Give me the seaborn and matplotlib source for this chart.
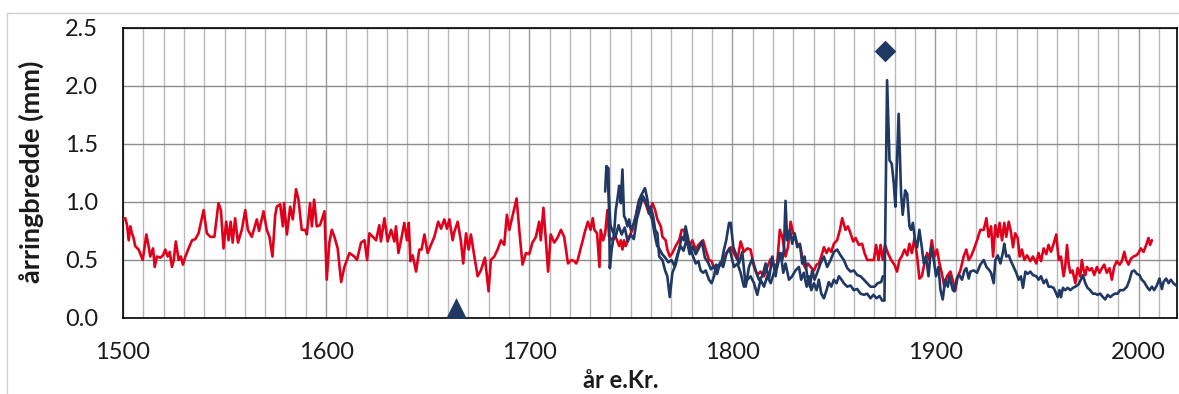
import matplotlib
matplotlib.use("Agg")
import matplotlib.pyplot as plt
import seaborn as sns
import pandas as pd
from matplotlib.ticker import MultipleLocator, FormatStrFormatter
from matplotlib.lines import Line2D

# ---------------- data ----------------
red_year = [1500, 1501.1, 1502, 1502.8, 1503.6, 1504.4, 1505.2, 1506, 1507.7, 1509.7, 1510.2, 1511.5, 1512.6,
            1513.4, 1514.8, 1515.6, 1516.7, 1518.4, 1519.7, 1520.8, 1522, 1523, 1524.1, 1525, 1526, 1527.4,
            1528.5, 1529.5, 1530.7, 1532.3, 1534, 1535.6, 1537.2, 1539.7, 1541.3, 1543, 1545, 1547, 1548.2,
            1549.5, 1550.8, 1552, 1553, 1554, 1555.2, 1556.6, 1558.5, 1560.2, 1561.5, 1563.4, 1565.9, 1567,
            1569.2, 1570.8, 1572.1, 1573.6, 1574.9, 1575.7, 1577.4, 1578.7, 1579.3, 1580.7, 1582.3, 1583.6,
            1585.2, 1586.4, 1588, 1589.7, 1590.5, 1592.1, 1593, 1594.1, 1595.4, 1597, 1599.2, 1600.3, 1601.6,
            1602.8, 1604.1, 1605.7, 1607.4, 1609, 1611.5, 1613.9, 1615.2, 1617.2, 1618.9, 1620.2, 1621.3,
            1623, 1624.6, 1626.2, 1627, 1628.7, 1630.3, 1632, 1633.6, 1634.4, 1635.6, 1636.9, 1638.5, 1639.8,
            1640.7, 1641.5, 1642.6, 1644.3, 1645.9, 1647, 1648.4, 1650, 1651.6, 1653.3, 1655.2, 1656.6,
            1658.2, 1659.5, 1660.7, 1662.3, 1663.1, 1664.8, 1666.4, 1667.5, 1668.9, 1670.2, 1671.3, 1673,
            1674.6, 1676.2, 1678.2, 1680, 1681.1, 1682.8, 1684.4, 1686.1, 1687.7, 1689, 1690.2, 1691.8,
            1693.8, 1695.1, 1696.7, 1698.4, 1700, 1701.6, 1703.3, 1704.9, 1705.7, 1707, 1708.2, 1709.3,
            1710.6, 1712.3, 1713.9, 1715.6, 1717.2, 1719.1, 1720.7, 1722.3, 1723.1, 1723.9, 1725.6, 1726.4,
            1727.2, 1728.9, 1730.2, 1731.3, 1732.1, 1733.4, 1734.6, 1735.2, 1736.4, 1737.4, 1738.5, 1739.3,
            1741, 1742.6, 1744.3, 1745.1, 1745.9, 1746.7, 1747.5, 1749.2, 1750.8, 1752.5, 1754.1, 1755.7,
            1757.4, 1759, 1760.7, 1762, 1763.1, 1764.8, 1765.6, 1767.2, 1768, 1769.2, 1770.5, 1772.1,
            1773.8, 1775.1, 1776.2, 1777.4, 1779, 1780.3, 1782, 1783.3, 1784.4, 1785.6, 1786.9, 1788.5,
            1789.8, 1791, 1792.6, 1794.3, 1795.9, 1797, 1798.4, 1799.2, 1800.8, 1802.5, 1804.1, 1805.7,
            1807.4, 1809, 1810.7, 1812.3, 1813.9, 1815.6, 1817.2, 1818.9, 1820.5, 1822.1, 1823.4, 1824.6,
            1826.2, 1827.4, 1828.7, 1830, 1831.1, 1832, 1833.6, 1834.9, 1836, 1837.2, 1838.5, 1840.2,
            1841.5, 1842.6, 1843.8, 1845.1, 1846.4, 1847.5, 1848.7, 1850, 1851.6, 1853, 1854.1, 1855.7,
            1856.9, 1858.2, 1859.5, 1860.7, 1862.3, 1863.9, 1865.1, 1866.4, 1868, 1869.7, 1870.8, 1872,
            1873, 1874.1, 1875.2, 1876.6, 1878.2, 1879.8, 1881.1, 1882.3, 1883.4, 1884.8, 1886.1, 1887.2,
            1888.4, 1889.7, 1891, 1892.1, 1893.3, 1894.6, 1895.9, 1897, 1898.2, 1899.5, 1900.8, 1902,
            1903.1, 1904.4, 1905.7, 1906.9, 1907.4, 1909.8, 1911, 1912.3, 1913.9, 1915.2, 1916.4, 1917.5,
            1918.9, 1920.5, 1922.1, 1923.8, 1925.1, 1926.2, 1927.4, 1928.4, 1929.5, 1930.7, 1931.6, 1932.8,
            1933.9, 1934.9, 1936.1, 1937.2, 1938.2, 1939.3, 1940.5, 1941.5, 1942.6, 1943.8, 1945.1, 1946.7,
            1948, 1949.7, 1950.8, 1952, 1953.3, 1954.6, 1955.7, 1956.9, 1958.2, 1959.5, 1960.7, 1961.8,
            1963.1, 1963.9, 1964.8, 1965.6, 1966.4, 1967.5, 1968.9, 1970, 1971.3, 1972.1, 1973, 1973.8,
            1974.6, 1975.9, 1977, 1978.2, 1979.5, 1980.8, 1982, 1983.1, 1984.4, 1985.7, 1986.9, 1988,
            1989.3, 1990.7, 1991.8, 1993, 1993.9, 1995.1, 1996.2, 1997.5, 1998.9, 2000, 2001.1, 2002.5,
            2003.8, 2004.9, 2005.7, 2006.6]
red_val = [0.85, 0.86, 0.80, 0.67, 0.79, 0.73, 0.69, 0.62, 0.59, 0.50, 0.56, 0.72, 0.62,
           0.53, 0.60, 0.44, 0.53, 0.52, 0.54, 0.59, 0.53, 0.57, 0.44, 0.50, 0.66, 0.50,
           0.53, 0.46, 0.53, 0.60, 0.67, 0.68, 0.73, 0.93, 0.73, 0.70, 0.70, 0.99, 0.93,
           0.60, 0.83, 0.67, 0.83, 0.65, 0.86, 0.65, 0.76, 0.93, 0.76, 0.70, 0.85, 0.75,
           0.92, 0.76, 0.70, 0.53, 0.88, 0.96, 0.98, 0.79, 0.99, 0.72, 0.96, 0.85,
           1.11, 1.02, 0.76, 0.76, 0.72, 0.99, 0.79, 1.02, 0.79, 0.80, 0.92, 0.33, 0.65,
           0.76, 0.70, 0.60, 0.31, 0.44, 0.56, 0.53, 0.50, 0.65, 0.67, 0.50, 0.73,
           0.70, 0.67, 0.80, 0.66, 0.86, 0.66, 0.76, 0.66, 0.79, 0.56, 0.67, 0.82, 0.67,
           0.82, 0.49, 0.54, 0.40, 0.59, 0.59, 0.72, 0.56, 0.63, 0.70, 0.83, 0.77,
           0.85, 0.77, 0.85, 0.67, 0.74, 0.83, 0.66, 0.47, 0.73, 0.59, 0.72, 0.53,
           0.36, 0.41, 0.52, 0.23, 0.50, 0.53, 0.59, 0.67, 0.63, 0.89, 0.76, 0.88,
           1.03, 0.76, 0.46, 0.56, 0.55, 0.65, 0.70, 0.83, 0.67, 0.95, 0.67, 0.40,
           0.72, 0.65, 0.69, 0.76, 0.70, 0.47, 0.50, 0.49, 0.47, 0.50, 0.62, 0.67,
           0.73, 0.83, 0.76, 0.86, 0.76, 0.73, 0.44, 0.76, 0.67, 0.73, 0.93, 0.70,
           0.67, 0.70, 0.62, 0.67, 0.59, 0.67, 0.62, 0.70, 0.76, 0.88, 1.02, 1.05,
           0.98, 0.90, 0.99, 0.93, 0.85, 0.79, 0.70, 0.67, 0.59, 0.53, 0.56, 0.62,
           0.67, 0.76, 0.76, 0.69, 0.62, 0.67, 0.59, 0.63, 0.65, 0.67, 0.59, 0.50,
           0.49, 0.43, 0.44, 0.47, 0.50, 0.56, 0.59, 0.61, 0.56, 0.50, 0.66, 0.57,
           0.60, 0.59, 0.44, 0.37, 0.40, 0.36, 0.44, 0.51, 0.44, 0.47, 0.76, 0.70,
           0.53, 0.61, 0.83, 0.73, 0.69, 0.64, 0.61, 0.47, 0.43, 0.47, 0.44, 0.41,
           0.46, 0.47, 0.53, 0.61, 0.56, 0.60, 0.57, 0.64, 0.67, 0.76, 0.86, 0.76,
           0.79, 0.73, 0.66, 0.69, 0.63, 0.64, 0.56, 0.50, 0.50, 0.50, 0.63, 0.50,
           0.63, 0.50, 0.63, 0.56, 0.50, 0.46, 0.40, 0.50, 0.53, 0.59, 0.54, 0.64,
           0.56, 0.69, 0.53, 0.34, 0.36, 0.47, 0.56, 0.50, 0.67, 0.53, 0.59, 0.47,
           0.39, 0.27, 0.36, 0.39, 0.40, 0.24, 0.36, 0.41, 0.53, 0.59, 0.50, 0.53,
           0.59, 0.67, 0.76, 0.76, 0.86, 0.70, 0.79, 0.53, 0.80, 0.70, 0.82, 0.67,
           0.82, 0.70, 0.83, 0.74, 0.61, 0.73, 0.69, 0.53, 0.59, 0.50, 0.54, 0.49,
           0.53, 0.47, 0.56, 0.49, 0.60, 0.55, 0.63, 0.57, 0.64, 0.72, 0.50, 0.53,
           0.36, 0.44, 0.63, 0.47, 0.39, 0.41, 0.30, 0.43, 0.36, 0.50, 0.41, 0.37,
           0.44, 0.41, 0.43, 0.37, 0.44, 0.39, 0.43, 0.46, 0.39, 0.43, 0.33, 0.44,
           0.49, 0.46, 0.49, 0.57, 0.50, 0.46, 0.51, 0.53, 0.54, 0.56, 0.60, 0.57,
           0.63, 0.69, 0.63, 0.67]

# dark blue tree 1 (ends 1874)
blue1_year = [1737.4, 1738.0, 1739.0, 1739.7, 1740.6, 1741.8, 1742.6, 1743.4, 1744.3, 1745.1, 1745.9,
              1746.7, 1747.5, 1748.4, 1749.2, 1750.0, 1751.2, 1752.5, 1753.8, 1754.9, 1756.1, 1757.0,
              1758.2, 1759.0, 1759.8, 1761.0, 1762.0, 1763.1, 1764.0, 1765.6, 1766.9, 1768.0, 1769.2,
              1770.5, 1772.1, 1773.8, 1775.1, 1776.2, 1777.0, 1778.4, 1779.5, 1780.7, 1782.0, 1783.3,
              1784.4, 1785.6, 1786.9, 1788.5, 1789.8, 1791.0, 1792.1, 1793.4, 1794.8, 1795.9, 1797.0,
              1798.4, 1799.2, 1800.5, 1801.6, 1803.3, 1804.9, 1806.6, 1808.2, 1809.8, 1811.5, 1813.1,
              1814.8, 1816.4, 1818.0, 1819.7, 1821.3, 1823.0, 1824.6, 1825.4, 1826.2, 1827.0, 1828.4,
              1829.5, 1830.7, 1832.0, 1833.3, 1834.4, 1835.6, 1836.9, 1838.2, 1839.3, 1840.5, 1841.8,
              1843.4, 1845.1, 1846.7, 1848.4, 1850.0, 1851.6, 1853.3, 1854.9, 1856.6, 1858.2, 1859.8,
              1861.5, 1863.1, 1864.8, 1866.4, 1868.0, 1870.0, 1871.6, 1873.3, 1874.1]
blue1_val = [1.09, 1.31, 1.29, 0.43, 0.59, 0.73, 0.93, 1.02, 1.14, 0.99, 1.28,
             0.88, 0.85, 0.79, 0.85, 0.76, 0.80, 0.88, 0.99, 1.05, 1.09, 1.12,
             1.02, 0.90, 0.96, 0.88, 0.76, 0.73, 0.53, 0.50, 0.41, 0.36, 0.18,
             0.39, 0.46, 0.59, 0.70, 0.67, 0.79, 0.67, 0.59, 0.53, 0.47, 0.49,
             0.41, 0.39, 0.41, 0.33, 0.30, 0.36, 0.46, 0.44, 0.49, 0.59, 0.67,
             0.82, 0.82, 0.61, 0.56, 0.47, 0.57, 0.27, 0.44, 0.51, 0.41, 0.33,
             0.36, 0.47, 0.33, 0.53, 0.36, 0.56, 0.50, 0.59, 1.01, 0.67, 0.76,
             0.64, 0.73, 0.61, 0.64, 0.47, 0.53, 0.36, 0.27, 0.41, 0.33, 0.39,
             0.47, 0.53, 0.44, 0.50, 0.57, 0.59, 0.54, 0.50, 0.43, 0.40, 0.41,
             0.37, 0.36, 0.33, 0.30, 0.27, 0.27, 0.30, 0.31, 0.36]

# dark blue tree 2 (release after 1875, runs to the present)
blue2_year = [1738.0, 1739.0, 1740.0, 1741.0, 1742.5, 1744.0, 1745.5, 1747.0, 1748.5, 1750.0, 1751.5,
              1753.0, 1754.5, 1756.0, 1757.5, 1759.0, 1760.5, 1762.0, 1763.0, 1764.0, 1765.5, 1767.0,
              1768.5, 1770.0, 1771.5, 1773.0, 1774.5, 1776.0, 1777.5, 1779.0, 1780.5, 1782.0, 1783.5,
              1785.0, 1786.5, 1788.0, 1789.5, 1791.0, 1792.5, 1794.0, 1795.5, 1797.0, 1798.5, 1799.2,
              1800.8, 1802.5, 1804.1, 1805.7, 1807.4, 1809.0, 1810.7, 1812.3, 1813.9, 1815.6, 1817.2,
              1818.9, 1820.5, 1822.1, 1823.8, 1825.1, 1826.2, 1827.9, 1829.5, 1831.1, 1832.8, 1833.9,
              1835.2, 1836.6, 1837.7, 1838.9, 1840.2, 1841.5, 1842.6, 1843.8, 1845.1, 1846.4, 1847.5,
              1848.7, 1850.0, 1851.3, 1852.5, 1853.8, 1854.9, 1856.6, 1858.2, 1859.8, 1861.5, 1863.1,
              1864.8, 1866.4, 1868.0, 1869.5, 1871.0, 1872.5, 1873.8, 1874.9, 1876.2, 1877.4, 1878.5,
              1879.5, 1880.3, 1881.9, 1883.1, 1883.9, 1885.1, 1886.1, 1887.2, 1888.0, 1888.9, 1890.0,
              1891.0, 1892.1, 1893.3, 1894.3, 1895.4, 1896.6, 1897.9, 1899.2, 1900.3, 1901.5, 1902.5,
              1903.6, 1904.8, 1906.1, 1906.9, 1908.6, 1909.4, 1910.5, 1911.8, 1913.1, 1914.3, 1915.2,
              1916.4, 1917.2, 1918.9, 1920.5, 1922.1, 1923.8, 1925.1, 1926.2, 1927.4, 1928.7, 1929.5,
              1930.7, 1932.0, 1933.3, 1933.9, 1934.9, 1936.1, 1937.2, 1938.5, 1939.8, 1941.0, 1942.1,
              1943.1, 1944.3, 1945.4, 1946.7, 1948.0, 1949.7, 1950.8, 1952.0, 1953.3, 1954.6, 1955.7,
              1956.9, 1958.2, 1959.5, 1960.2, 1961.1, 1961.8, 1962.8, 1963.9, 1965.1, 1966.4, 1967.7,
              1968.9, 1970.5, 1971.6, 1972.6, 1973.8, 1974.9, 1976.2, 1977.5, 1978.7, 1979.8, 1981.1,
              1982.5, 1983.6, 1984.8, 1986.1, 1987.4, 1988.5, 1989.7, 1990.9, 1992.6, 1994.3, 1995.6,
              1996.7, 1997.9, 1999.2, 2000.5, 2001.6, 2002.8, 2004.1, 2005.4, 2006.6, 2007.7, 2009.0,
              2010.3, 2011.5, 2012.3, 2013.6, 2014.8, 2015.9, 2017.2, 2018.5, 2019.8]
blue2_val = [1.28, 1.10, 0.80, 0.75, 0.70, 0.80, 0.72, 0.78, 0.66, 0.72, 0.68,
             0.85, 0.95, 1.05, 1.00, 0.92, 0.85, 0.70, 0.62, 0.60, 0.55, 0.52,
             0.48, 0.50, 0.45, 0.55, 0.62, 0.58, 0.68, 0.55, 0.62, 0.55, 0.60,
             0.66, 0.52, 0.48, 0.42, 0.45, 0.38, 0.48, 0.44, 0.55, 0.60, 0.56,
             0.44, 0.47, 0.39, 0.27, 0.33, 0.36, 0.30, 0.20, 0.33, 0.27, 0.36,
             0.30, 0.39, 0.44, 0.56, 0.39, 0.47, 0.33, 0.36, 0.41, 0.44, 0.33,
             0.39, 0.27, 0.36, 0.24, 0.30, 0.24, 0.33, 0.21, 0.17, 0.24, 0.31,
             0.27, 0.33, 0.30, 0.36, 0.33, 0.30, 0.27, 0.28, 0.24, 0.25, 0.21,
             0.20, 0.21, 0.17, 0.20, 0.17, 0.19, 0.15, 0.15, 2.05, 1.36, 1.33,
             1.16, 0.96, 1.76, 1.07, 0.89, 1.10, 1.07, 0.79, 0.76, 0.82, 0.67,
             0.61, 0.76, 0.61, 0.47, 0.53, 0.36, 0.61, 0.50, 0.36, 0.44, 0.24,
             0.16, 0.33, 0.27, 0.36, 0.24, 0.23, 0.34, 0.37, 0.33, 0.41, 0.43,
             0.34, 0.40, 0.41, 0.39, 0.46, 0.50, 0.44, 0.42, 0.39, 0.30, 0.50,
             0.54, 0.47, 0.57, 0.64, 0.53, 0.54, 0.49, 0.44, 0.39, 0.33, 0.36,
             0.26, 0.40, 0.38, 0.40, 0.37, 0.36, 0.33, 0.36, 0.30, 0.33, 0.27,
             0.27, 0.26, 0.21, 0.18, 0.24, 0.18, 0.26, 0.24, 0.26, 0.24, 0.26,
             0.27, 0.29, 0.33, 0.37, 0.30, 0.26, 0.24, 0.21, 0.21, 0.20, 0.21,
             0.18, 0.16, 0.20, 0.18, 0.20, 0.21, 0.21, 0.24, 0.24, 0.27, 0.33,
             0.40, 0.41, 0.38, 0.37, 0.33, 0.31, 0.27, 0.24, 0.27, 0.24, 0.28,
             0.34, 0.25, 0.31, 0.34, 0.30, 0.33, 0.30, 0.28, 0.27]

event_year = [1664.0, 1875.3]
event_val = [0.09, 2.30]
event_marker = ["^", "D"]

x_ticks = [1500, 1600, 1700, 1800, 1900, 2000]
y_ticks = [0.0, 0.5, 1.0, 1.5, 2.0, 2.5]
x_label = "år e.Kr."
y_label = "årringbredde (mm)"

# ---------------- style ----------------
sns.set_theme(style="white")
plt.rcParams["font.family"] = ["Lato", "DejaVu Sans"]

RED = "#E0001B"
NAVY = "#1F3864"
TXT = "#1A1A1A"

W, H = 1179, 394
fig = plt.figure(figsize=(W / 100, H / 100), dpi=100)
ax = fig.add_axes([123 / W, 1 - 318 / H, (1176.7 - 123) / W, (318 - 28) / H])

red_df = pd.DataFrame({"year": red_year, "val": red_val})
b1_df = pd.DataFrame({"year": blue1_year, "val": blue1_val})
b2_df = pd.DataFrame({"year": blue2_year, "val": blue2_val})

sns.lineplot(data=red_df, x="year", y="val", ax=ax, color=RED, linewidth=1.9,
             estimator=None, sort=False, zorder=3)
sns.lineplot(data=b1_df, x="year", y="val", ax=ax, color=NAVY, linewidth=1.9,
             estimator=None, sort=False, zorder=4)
sns.lineplot(data=b2_df, x="year", y="val", ax=ax, color=NAVY, linewidth=1.9,
             estimator=None, sort=False, zorder=4)

sizes = {"^": 15 ** 2, "D": 11 ** 2}
for yr, v, m in zip(event_year, event_val, event_marker):
    sns.scatterplot(x=[yr], y=[v], ax=ax, marker=m, s=sizes[m], color=NAVY,
                    linewidth=0, zorder=5, legend=False)

ax.set_xlim(1500, 2018.8)
ax.set_ylim(0, 2.5)
ax.set_xticks(x_ticks)
ax.xaxis.set_minor_locator(MultipleLocator(10))
ax.set_yticks(y_ticks)
ax.yaxis.set_major_formatter(FormatStrFormatter("%.1f"))

ax.grid(which="minor", axis="x", color="#B8B8B8", linewidth=1.0, zorder=0)
ax.grid(which="major", axis="x", color="#9A9A9A", linewidth=1.0, zorder=0)
ax.grid(which="major", axis="y", color="#8C8C8C", linewidth=1.0, zorder=0)
ax.set_axisbelow(True)

ax.tick_params(axis="both", which="both", length=0)
ax.tick_params(axis="y", pad=18, labelsize=17, labelcolor=TXT)
ax.tick_params(axis="x", pad=17, labelsize=17, labelcolor=TXT)

for s in ax.spines.values():
    s.set_visible(True)
    s.set_color("#000000")
    s.set_linewidth(1.2)

ax.set_xlabel(x_label, fontsize=17, fontweight="bold", color=TXT, va="center")
ax.set_ylabel(y_label, fontsize=19.5, fontweight="bold", color=TXT, va="center")
ax.xaxis.set_label_coords((621 - 123) / 1053.7, (318 - 381) / 290)
ax.yaxis.set_label_coords((31 - 123) / 1053.7, (318 - 172) / 290)

# light outer frame of the original chart area
fig.add_artist(Line2D([7 / W, 1], [1 - 12.5 / H, 1 - 12.5 / H], transform=fig.transFigure,
                      color="#D0D0D0", linewidth=1))
fig.add_artist(Line2D([7 / W, 7 / W], [0, 1 - 12.5 / H], transform=fig.transFigure,
                      color="#D0D0D0", linewidth=1))

fig.savefig("out.png", dpi=100)
